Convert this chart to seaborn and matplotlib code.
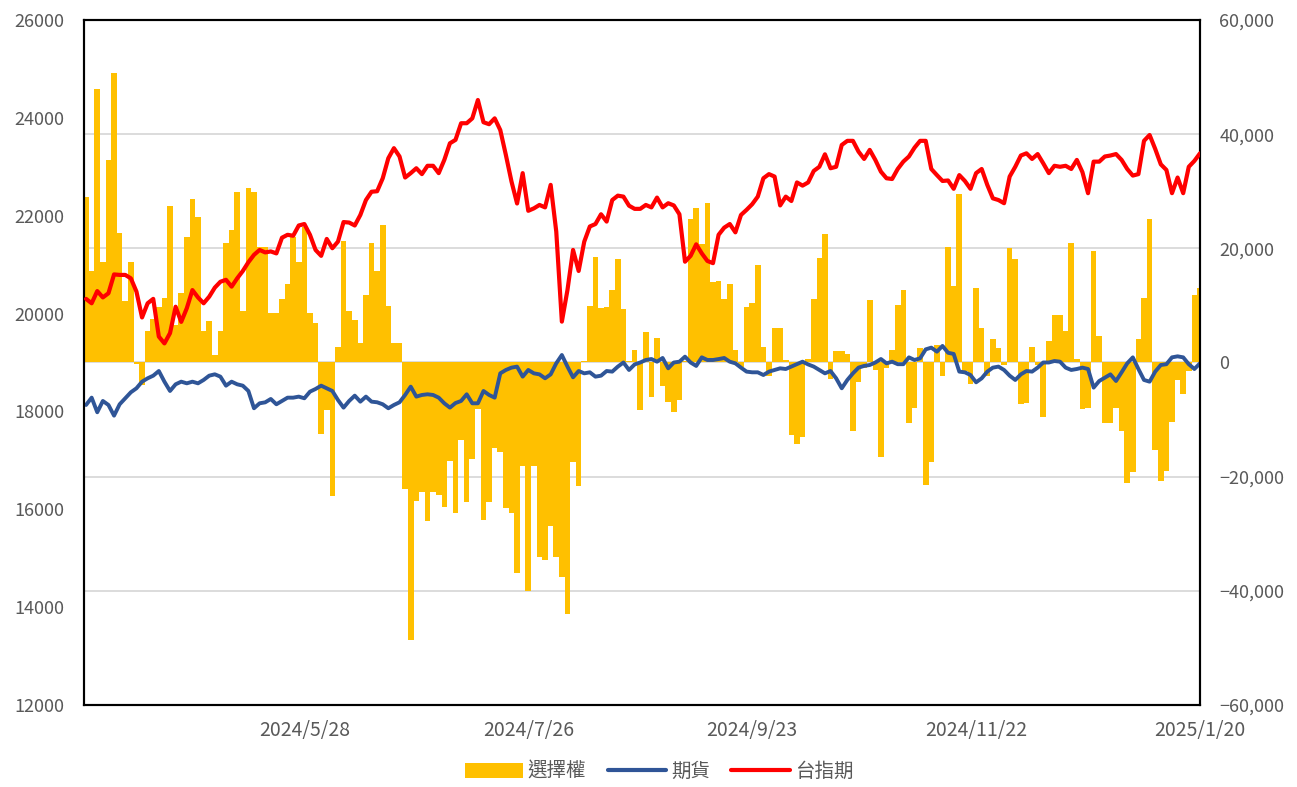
import matplotlib
matplotlib.use("Agg")
import matplotlib.pyplot as plt
from matplotlib.patches import Patch
from matplotlib.lines import Line2D
from matplotlib.ticker import FuncFormatter, MultipleLocator
import numpy as np
import seaborn as sns

# daily net positions (right axis) and TX futures price (left axis), one value per trading day
options = [
    29000, 16000, 47900, 17650, 35500, 50800, 22700, 10800, 17650, -300,
    -4000, 5500, 7600, 9800, 11350, 27500, 6500, 12100, 22000, 28600,
    25500, 5500, 7300, 1400, 5500, 20900, 23200, 29800, 9000, 30500,
    29800, 20300, 20300, 8700, 8700, 11100, 13700, 22000, 17650, 23700,
    8700, 7000, -12600, -8400, -23400, 2800, 21200, 9000, 7400, 3500,
    11900, 20900, 16000, 24100, 9950, 3400, 3400, -22150, -48600, -24250,
    -22600, -27750, -22600, -23200, -25400, -17250, -26400, -13570, -24370, -16900,
    -8100, -27580, -24370, -14900, -15600, -25500, -26400, -36900, -18070, -40100,
    -18070, -34000, -34600, -28600, -34000, -37500, -44100, -17500, -21700, 300,
    9950, 18400, 9500, 9800, 12700, 18200, 9400, 200, 2200, -8300,
    5400, -6000, 4300, -4100, -7000, -8600, -6600, 300, 25200, 27100,
    20700, 27900, 14150, 14300, 11100, 13700, 2200, -800, 9800, 10400,
    17100, 2800, -2300, 6100, 6100, 500, -12700, -14300, -13000, 600,
    11100, 18300, 22500, -2900, 2000, 2000, 1500, -12000, -3400, -1000,
    10900, -1300, -16500, -1000, 2200, 10100, 12700, -10650, -8000, 2500,
    -21450, -17500, 3100, -2300, 20300, 13450, 29450, -1500, -3800, 13000,
    6100, -2400, 4100, 2600, -500, 20000, 18200, -7300, -7150, 2800,
    -500, -9500, 3800, 8300, 8300, 5500, 20900, 600, -8100, -7900,
    19500, 4700, -10650, -10650, -8000, -12000, -21150, -19100, 4100, 11350,
    25100, -15300, -20750, -19000, -10400, -3000, -5600, -1500, 11900, 13000,
]

futures = [
    -7440, -6160, -8720, -6740, -7440, -9310, -7320, -6270, -5220, -4520,
    -3360, -2770, -2310, -1490, -3360, -4990, -3820, -3360, -3650, -3360,
    -3650, -3060, -2310, -2070, -2480, -4060, -3360, -3820, -4060, -4990,
    -8020, -7150, -6980, -6390, -7320, -6740, -6160, -6160, -5980, -6270,
    -5110, -4640, -4060, -4520, -4990, -6570, -7910, -6740, -5810, -6860,
    -5980, -6860, -6970, -7320, -8020, -7440, -6970, -5690, -4230, -5980,
    -5690, -5570, -5690, -6160, -7150, -7910, -7100, -6740, -5570, -7150,
    -7150, -4990, -5690, -6160, -1900, -1310, -900, -720, -2480, -1310,
    -1900, -2080, -2770, -2080, -140, 1310, -720, -2600, -1490, -1900,
    -1720, -2480, -2310, -1490, -1600, -720, 0, -1310, -340, 0,
    440, 610, 140, 790, -1020, 0, 140, 1020, 0, -600,
    900, 440, 440, 600, 790, 140, -150, -900, -1600, -1720,
    -1720, -2190, -1600, -1310, -1020, -1140, -720, -310, 140, -340,
    -720, -1300, -1900, -1490, -2770, -4520, -3060, -1900, -900, -600,
    -440, 0, 610, -150, 140, -300, -300, 900, 440, 730,
    2300, 2600, 1900, 2900, 1700, 1500, -1600, -1720, -2190, -3470,
    -2770, -1600, -900, -720, -1310, -2310, -3060, -2080, -1490, -1600,
    -900, 0, 0, 260, 140, -900, -1310, -1140, -900, -1140,
    -4400, -3240, -2660, -2080, -3240, -1720, -150, 900, -1140, -3060,
    -3360, -1600, -440, -300, 900, 1080, 900, -300, -1140, -150,
]

taiex_fut = [
    20300, 20210, 20460, 20330, 20415, 20800, 20790, 20790, 20720, 20450,
    19920, 20210, 20300, 19530, 19390, 19600, 20140, 19830, 20110, 20480,
    20330, 20210, 20345, 20530, 20650, 20690, 20550, 20720, 20870, 21050,
    21200, 21300, 21250, 21270, 21230, 21550, 21610, 21590, 21800, 21830,
    21610, 21300, 21180, 21525, 21335, 21470, 21870, 21860, 21800, 22015,
    22320, 22490, 22500, 22765, 23175, 23380, 23210, 22780, 22870, 22970,
    22850, 23020, 23020, 22870, 23140, 23480, 23550, 23890, 23890, 23990,
    24365, 23910, 23870, 23990, 23750, 23240, 22700, 22250, 22870, 22100,
    22150, 22220, 22170, 22630, 21675, 19835, 20480, 21300, 20870, 21470,
    21780, 21830, 22030, 21880, 22320, 22410, 22390, 22205, 22140, 22140,
    22220, 22170, 22370, 22170, 22255, 22210, 22030, 21060, 21180, 21415,
    21230, 21075, 21030, 21610, 21755, 21830, 21660, 22015, 22120, 22235,
    22390, 22765, 22850, 22800, 22210, 22390, 22300, 22680, 22615, 22680,
    22915, 23000, 23255, 22970, 23000, 23445, 23530, 23530, 23310, 23160,
    23345, 23140, 22900, 22765, 22750, 22955, 23105, 23210, 23390, 23530,
    23530, 22955, 22830, 22710, 22720, 22550, 22830, 22710, 22550, 22870,
    22955, 22630, 22355, 22320, 22255, 22800, 23000, 23230, 23275, 23160,
    23260, 23070, 22870, 23020, 23000, 23020, 22955, 23140, 22890, 22460,
    23105, 23105, 23210, 23230, 23260, 23140, 22955, 22820, 22850, 23530,
    23650, 23365, 23050, 22935, 22460, 22780, 22460, 23000, 23120, 23275,
]

# every 40th trading day carries a date label, the last one is the final day
tick_labels = ["2024/5/28", "2024/7/26", "2024/9/23", "2024/11/22", "2025/1/20"]
tick_every = 40

series_names = ["選擇權", "期貨", "台指期"]
bar_color = "#FFC000"
fut_color = "#2F5597"
tx_color = "#FF0000"
text_color = "#595959"

sns.set_style("white")
plt.rcParams["font.family"] = ["Noto Sans CJK TC", "DejaVu Sans"]
plt.rcParams["axes.unicode_minus"] = True

n = len(options)
x = np.arange(n)

fig = plt.figure(figsize=(12.97, 7.87), dpi=100)
ax = fig.add_axes([0.0648, 0.1042, 0.8604, 0.8704])

# right-hand scale: option bars and futures line
sns.barplot(x=x, y=options, native_scale=True, color=bar_color, saturation=1,
            width=1.0, linewidth=0, errorbar=None, ax=ax, zorder=2)
sns.lineplot(x=x, y=futures, color=fut_color, linewidth=2.8, ax=ax, zorder=3)
ax.set_ylim(-60000, 60000)
ax.yaxis.set_major_locator(MultipleLocator(20000))
ax.yaxis.set_major_formatter(FuncFormatter(lambda v, p: f"{v:,.0f}".replace("-", "\u2212")))
ax.grid(axis="y", color="#D9D9D9", linewidth=1.3)
ax.set_axisbelow(True)

# left-hand scale: TX futures price
ax2 = ax.twinx()
sns.lineplot(x=x, y=taiex_fut, color=tx_color, linewidth=3.0, ax=ax2, zorder=4)
ax2.set_ylim(12000, 26000)
ax2.yaxis.set_major_locator(MultipleLocator(2000))
ax2.yaxis.set_major_formatter(FuncFormatter(lambda v, p: f"{v:.0f}"))

# twinx put the host ticks on the left, swap the two sides
ax.yaxis.tick_right()
ax2.yaxis.tick_left()

ticks = list(range(tick_every - 1, n, tick_every))
for a in (ax, ax2):
    a.set_xlim(-0.36, n - 1)
    a.set_xticks(ticks)
    a.set_xticklabels(tick_labels)
    a.set_xlabel("")
    a.set_ylabel("")
    a.tick_params(length=0, labelsize=13, labelcolor=text_color)
    for s in a.spines.values():
        s.set_visible(True)
        s.set_color("black")
        s.set_linewidth(1.5)
ax.tick_params(axis="y", pad=14)
ax2.tick_params(axis="y", pad=14)
ax.tick_params(axis="x", pad=11, labelsize=14)
ax2.tick_params(axis="x", labelbottom=False)

handles = [
    Patch(facecolor=bar_color, edgecolor="none"),
    Line2D([0], [0], color=fut_color, linewidth=3),
    Line2D([0], [0], color=tx_color, linewidth=3),
]
fig.legend(handles, series_names, loc="lower center", bbox_to_anchor=(0.508, -0.016),
           ncol=3, frameon=False, handlelength=3.0, handleheight=0.8,
           columnspacing=1.1, handletextpad=0.25, fontsize=14, labelcolor=text_color)

fig.savefig("out.png", dpi=100)
plt.close(fig)
